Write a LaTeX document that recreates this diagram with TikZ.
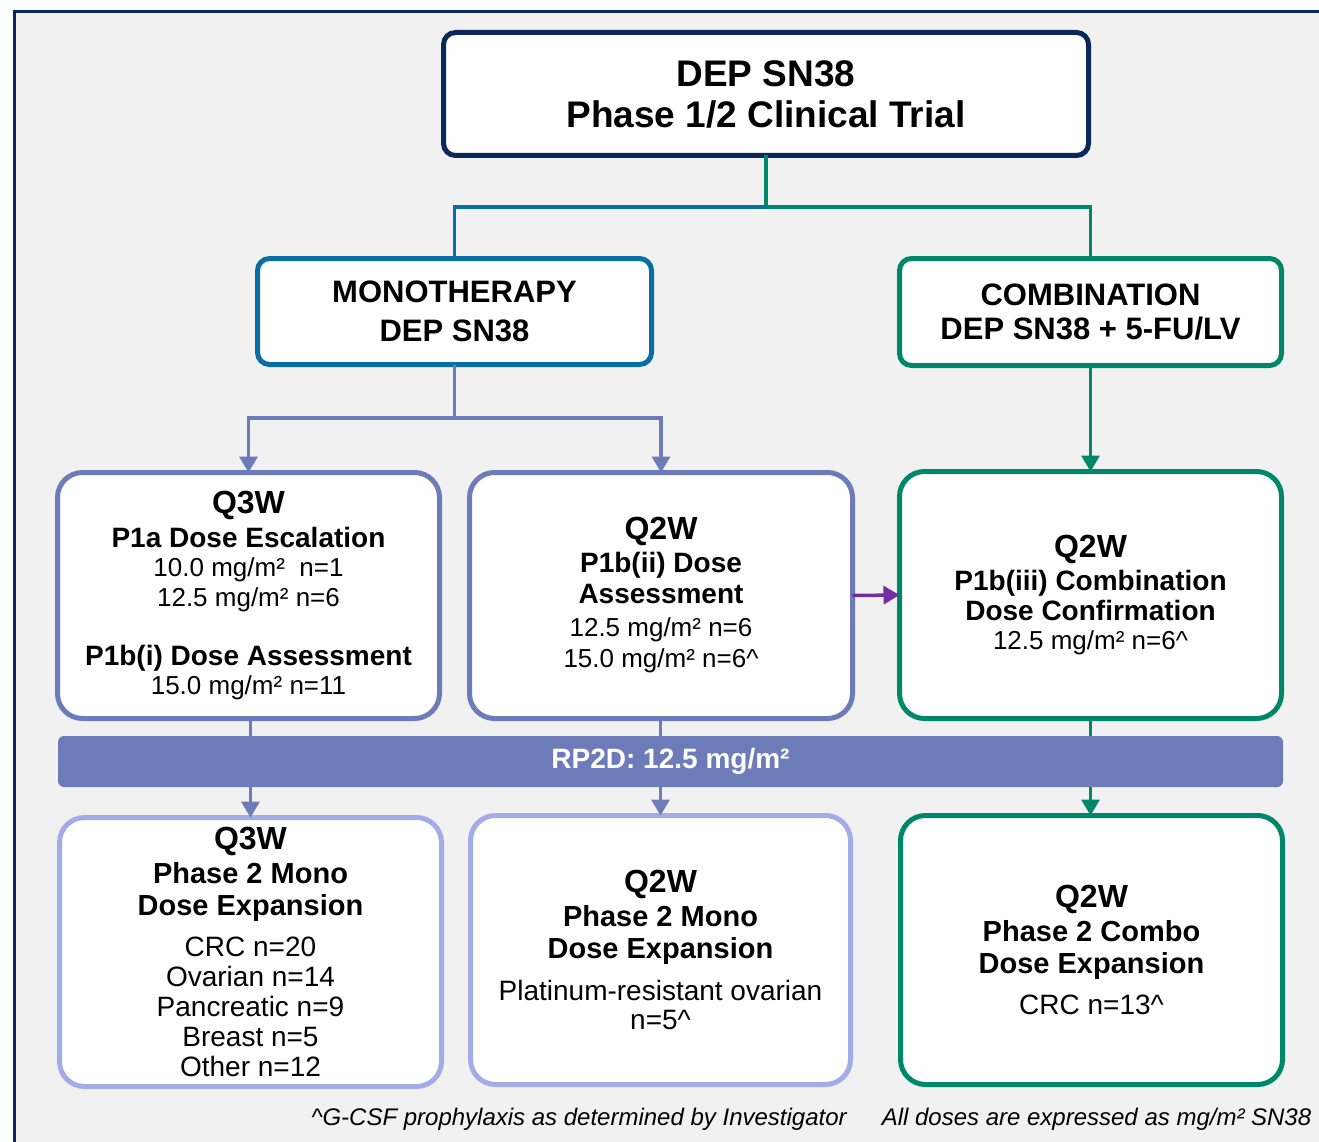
\documentclass[tikz,border=0pt]{standalone}
\usepackage{fontspec}
\setmainfont{Liberation Sans}
\usetikzlibrary{arrows.meta}
\definecolor{navy}{HTML}{0B2859}
\definecolor{monoblue}{HTML}{0A6FA0}
\definecolor{combogreen}{HTML}{00876A}
\definecolor{periwinkle}{HTML}{6E7BB9}
\definecolor{lavender}{HTML}{A2ACE6}
\definecolor{arrowpurple}{HTML}{7030A0}
\definecolor{bggray}{HTML}{F1F1F1}
\newcommand\hq[1]{{\fontsize{32}{\baselineskip}\selectfont\bfseries #1}}
\newcommand\hb[1]{{\fontsize{28}{\baselineskip}\selectfont\bfseries #1}}
\newcommand\hbb[1]{{\fontsize{29}{\baselineskip}\selectfont\bfseries #1}}
\newcommand\crt{\textasciicircum}
\begin{document}
\begin{tikzpicture}[x=1pt,y=-1pt,
  box/.style={draw, line width=5pt, fill=white, align=center, inner sep=0pt, outer sep=0pt},
  conn/.style={line width=3.5pt},
  tip/.style={-{Triangle[length=16pt,width=18pt]}}
]
\useasboundingbox (0,0) rectangle (1319,1142);
\fill[white] (0,0) rectangle (1319,1142);
\fill[bggray] (14,12) rectangle (1319,1142);
\draw[navy, line width=3pt] (14,1142) -- (14,12) -- (1319,12);

% boxes
\node[box, draw=navy, rounded corners=12pt, minimum width=645pt, minimum height=123pt,
  font=\fontsize{37}{41}\selectfont\bfseries] (title) at (766,94) {DEP SN38\\Phase 1/2 Clinical Trial};
\node[box, draw=monoblue, rounded corners=12pt, minimum width=394pt, minimum height=106pt,
  font=\fontsize{31}{39}\selectfont\bfseries] (mono) at (454.5,311.5) {MONOTHERAPY\\DEP SN38};
\node[box, draw=combogreen, rounded corners=12pt, minimum width=382pt, minimum height=107pt,
  font=\fontsize{31}{34}\selectfont\bfseries] (combo) at (1090.5,312) {COMBINATION\\DEP SN38 + 5-FU/LV};

\node[box, draw=periwinkle, rounded corners=25pt, minimum width=382pt, minimum height=246pt,
  font=\fontsize{26}{29.5}\selectfont] (q3w) at (248.5,595.5) {\hq{Q3W}\\[4.5pt]
  \hb{P1a Dose Escalation}\\
  10.0 mg/m²\ \ n=1\\
  12.5 mg/m² n=6\\[29.5pt]
  \hb{P1b(i) Dose Assessment}\\
  15.0 mg/m² n=11};
\node[box, draw=periwinkle, rounded corners=25pt, minimum width=383pt, minimum height=246pt,
  font=\fontsize{26}{31}\selectfont] (q2w) at (661,595.5) {\hq{Q2W}\\[2pt]
  \hb{P1b(ii) Dose}\\
  \hb{Assessment}\\[2pt]
  12.5 mg/m² n=6\\
  15.0 mg/m² n=6\crt};
\node[box, draw=combogreen, rounded corners=25pt, minimum width=382pt, minimum height=247pt,
  font=\fontsize{26}{30}\selectfont] (ctop) at (1090.5,595) {\hq{Q2W}\\[3pt]
  \hb{P1b(iii) Combination}\\
  \hb{Dose Confirmation}\\[-1pt]
  12.5 mg/m² n=6\crt};

\node[box, draw=lavender, rounded corners=25pt, minimum width=382pt, minimum height=269pt,
  font=\fontsize{28}{30}\selectfont] (bl) at (250.5,952) {\hq{Q3W}\\[4pt]
  \hbb{Phase 2 Mono}\\[2pt]
  \hbb{Dose Expansion}\\[11pt]
  CRC n=20\\
  Ovarian n=14\\
  Pancreatic n=9\\
  Breast n=5\\
  Other n=12};
\node[box, draw=lavender, rounded corners=25pt, minimum width=380pt, minimum height=269pt,
  font=\fontsize{28}{30}\selectfont] (bm) at (660.5,950) {\hq{Q2W}\\[4pt]
  \hbb{Phase 2 Mono}\\[2pt]
  \hbb{Dose Expansion}\\[12pt]
  Platinum-resistant ovarian\\[-1pt]
  n=5\crt};
\node[box, draw=combogreen, rounded corners=25pt, minimum width=382pt, minimum height=269pt,
  font=\fontsize{28}{30}\selectfont] (br) at (1091.5,950) {\hq{Q2W}\\[4pt]
  \hbb{Phase 2 Combo}\\[2pt]
  \hbb{Dose Expansion}\\[11pt]
  CRC n=13\crt};

% connectors
\coordinate (split) at (766,207);
\draw[conn, combogreen] (title.south) -- (split) -| (combo.north);
\draw[conn, monoblue] (split) -| (mono.north);
\coordinate (msplit) at (454.5,418);
\draw[conn, periwinkle] (mono.south) -- (msplit);
\draw[conn, periwinkle, tip] (msplit) -| (q3w.north);
\draw[conn, periwinkle, tip] (msplit) -| (q2w.north);
\draw[conn, combogreen, tip] (combo.south) -- (ctop.north);
\draw[conn, arrowpurple, tip] (q2w.east) -- (ctop.west);
\draw[conn, periwinkle, tip] (q3w.south -| bl.north) -- (bl.north);
\draw[conn, periwinkle, tip] (q2w.south -| bm.north) -- (bm.north);
\draw[conn, combogreen, tip] (ctop.south) -- (ctop.south |- br.north);

% RP2D bar
\node[fill=periwinkle, rounded corners=6pt, minimum width=1225pt, minimum height=51pt, inner sep=0pt,
  text=white, font=\fontsize{28}{30}\selectfont\bfseries] (rp2d) at (670.5,761.5) {RP2D: 12.5 mg/m²};

% footer
\node[font=\fontsize{24}{28}\selectfont\itshape, inner sep=0pt] (fn1) at (579,1119) {\crt G-CSF prophylaxis as determined by Investigator};
\node[font=\fontsize{24}{28}\selectfont\itshape, inner sep=0pt] (fn2) at (1096.5,1119) {All doses are expressed as mg/m² SN38};
\end{tikzpicture}
\end{document}
